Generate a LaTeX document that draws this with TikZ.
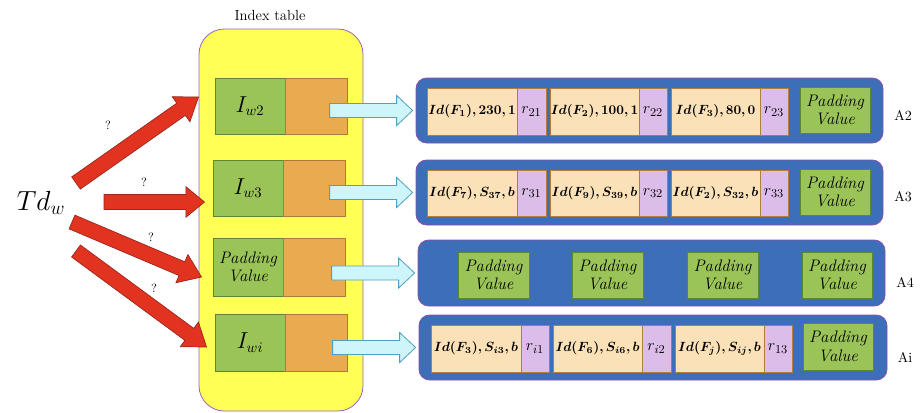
\documentclass[tikz,border=0pt]{standalone}
\usepackage{bm}
\usetikzlibrary{calc}
\definecolor{yel}{RGB}{255,255,85}
\definecolor{yelB}{RGB}{150,100,190}
\definecolor{grn}{RGB}{155,196,88}
\definecolor{grnB}{RGB}{95,135,50}
\definecolor{org}{RGB}{234,170,80}
\definecolor{orgB}{RGB}{180,120,60}
\definecolor{bei}{RGB}{251,225,183}
\definecolor{beiB}{RGB}{180,125,60}
\definecolor{lil}{RGB}{220,188,232}
\definecolor{blu}{RGB}{60,110,185}
\definecolor{bluB}{RGB}{140,80,170}
\definecolor{cya}{RGB}{205,245,250}
\definecolor{cyaB}{RGB}{80,160,190}
\definecolor{rd}{RGB}{226,50,32}
\definecolor{rdB}{RGB}{150,40,30}
% box node from (x1,y1) to (x2,y2)
\newcommand\boxat[7]{%
  \node[#6, minimum width={(#4-#2)*0.75pt}, minimum height={(#5-#3)*0.75pt}, inner sep=0pt]
    (#1) at ({(#2+#4)/2},{(#3+#5)/2}) {#7};}
% fat block arrow: style, tail, tip, name, shaft half width, head half width, head length
\newcommand\fatarrow[7]{%
  \coordinate (#4h) at ($(#3)!#7!(#2)$);
  \draw[#1] ($(#2)!#5!90:(#3)$) -- ($(#4h)!#5!90:(#3)$) -- ($(#4h)!#6!90:(#3)$)
    -- (#3) -- ($(#4h)!#6!-90:(#3)$) -- ($(#4h)!#5!-90:(#3)$) -- ($(#2)!#5!-90:(#3)$) -- cycle;}
\begin{document}
\begin{tikzpicture}[x=0.75pt,y=-0.75pt,
  yellowbox/.style={fill=yel, draw=yelB, line width=0.6pt, rounded corners=19pt},
  greenbox/.style={fill=grn, draw=grnB, line width=0.7pt, align=center, font=\itshape\fontsize{12.5}{14}\selectfont},
  mathbox/.style={fill=grn, draw=grnB, line width=0.7pt, font=\fontsize{16}{18}\selectfont},
  orangebox/.style={fill=org, draw=orgB, line width=0.7pt},
  beigebox/.style={fill=bei, draw=beiB, line width=0.7pt, font=\fontsize{10.3}{12}\selectfont},
  lilacbox/.style={fill=lil, draw=beiB, line width=0.7pt, font=\fontsize{12.5}{14}\selectfont},
  panel/.style={fill=blu, draw=bluB, line width=0.6pt, rounded corners=8pt},
  redarrow/.style={fill=rd, draw=rdB, line width=0.5pt, line join=miter},
  cyanarrow/.style={fill=cya, draw=cyaB, line width=0.6pt, line join=miter},
  qmark/.style={font=\fontsize{9}{10}\selectfont},
  rowlabel/.style={font=\fontsize{10.5}{12}\selectfont}
]
\useasboundingbox (0,0) rectangle (920,412);
\fill[white] (0,0) rectangle (920,412);

% index table
\boxat{tab}{199}{29}{363}{411}{yellowbox}{}
\node[font=\fontsize{11}{12}\selectfont] (tablbl) at (270,15) {Index table};

\boxat{g1}{215}{78}{285}{134}{mathbox}{$I_{w2}$}
\boxat{o1}{285}{78}{347}{134}{orangebox}{}
\boxat{g2}{213}{160}{283}{216}{mathbox}{$I_{w3}$}
\boxat{o2}{283}{160}{345}{216}{orangebox}{}
\boxat{g3}{213}{238}{283}{296}{greenbox}{Padding\\Value}
\boxat{o3}{283}{238}{345}{296}{orangebox}{}
\boxat{g4}{215}{314}{285}{371}{mathbox}{$I_{wi}$}
\boxat{o4}{285}{314}{347}{371}{orangebox}{}

% Td_w and red arrows
\node[font=\fontsize{22}{24}\selectfont] (td) at (41,203) {$Td_w$};
\coordinate (r1t) at (76,183);
\coordinate (r2t) at (104,202);
\coordinate (r3t) at (72,222);
\coordinate (r4t) at (76,251);
\coordinate (r1h) at ($(g1.west)+(-16,-9)$);
\coordinate (r2h) at ($(g2.west)+(-8,14)$);
\coordinate (r3h) at ($(g3.west)+(-11,10)$);
\coordinate (r4h) at ($(g4.west)+(-8,4.5)$);
\fatarrow{redarrow}{r1t}{r1h}{ra}{5.6pt}{11.5pt}{16pt}
\fatarrow{redarrow}{r2t}{r2h}{rb}{5.6pt}{11.5pt}{14pt}
\fatarrow{redarrow}{r3t}{r3h}{rc}{5.6pt}{11.5pt}{16pt}
\fatarrow{redarrow}{r4t}{r4h}{rd}{5.6pt}{11.5pt}{16pt}
\node[qmark] (q1) at (108,125) {?};
\node[qmark] (q2) at (144,182) {?};
\node[qmark] (q3) at (151,237) {?};
\node[qmark] (q4) at (154,288) {?};

% panels
\boxat{A2}{416}{78}{883}{143}{panel}{}
\boxat{A3}{416}{160}{883}{225}{panel}{}
\boxat{A4}{418}{240}{885}{306}{panel}{}
\boxat{Ai}{419}{315}{887}{380}{panel}{}

% cyan arrows
\foreach \p/\o in {A2/o1,A3/o2,A4/o3,Ai/o4}{
  \coordinate (\p cs) at ($(\p.west)+(-86,0)$);
  \coordinate (\p ce) at ($(\p.west)+(-3,0)$);
  \fatarrow{cyanarrow}{\p cs}{\p ce}{\p ca}{5.3pt}{11.3pt}{12pt}
}

% A2 row
\boxat{b21}{427}{88}{517}{135}{beigebox}{$\bm{Id(F_1),230,1}$}
\boxat{c21}{517}{88}{546}{135}{lilacbox}{$r_{21}$}
\boxat{b22}{550}{88}{639}{135}{beigebox}{$\bm{Id(F_2),100,1}$}
\boxat{c22}{639}{88}{667}{135}{lilacbox}{$r_{22}$}
\boxat{b23}{671}{88}{760}{135}{beigebox}{$\bm{Id(F_3),80,0}$}
\boxat{c23}{760}{88}{788}{135}{lilacbox}{$r_{23}$}
\boxat{p2}{800}{87}{870}{133}{greenbox}{Padding\\Value}
% A3 row
\boxat{b31}{427}{170}{517}{216}{beigebox}{$\bm{Id(F_7),S_{37},b}$}
\boxat{c31}{517}{170}{546}{216}{lilacbox}{$r_{31}$}
\boxat{b32}{550}{170}{639}{216}{beigebox}{$\bm{Id(F_9),S_{39},b}$}
\boxat{c32}{639}{170}{667}{216}{lilacbox}{$r_{32}$}
\boxat{b33}{671}{170}{760}{216}{beigebox}{$\bm{Id(F_2),S_{32},b}$}
\boxat{c33}{760}{170}{788}{216}{lilacbox}{$r_{33}$}
\boxat{p3}{800}{169}{870}{215}{greenbox}{Padding\\Value}
% A4 row
\boxat{p41}{458}{252}{529}{298}{greenbox}{Padding\\Value}
\boxat{p42}{572}{252}{643}{298}{greenbox}{Padding\\Value}
\boxat{p43}{687}{252}{758}{298}{greenbox}{Padding\\Value}
\boxat{p44}{802}{252}{872}{298}{greenbox}{Padding\\Value}
% Ai row
\boxat{bi1}{431}{325}{521}{372}{beigebox}{$\bm{Id(F_3),S_{i3},b}$}
\boxat{ci1}{521}{325}{549}{372}{lilacbox}{$r_{i1}$}
\boxat{bi2}{553}{325}{642}{372}{beigebox}{$\bm{Id(F_6),S_{i6},b}$}
\boxat{ci2}{642}{325}{671}{372}{lilacbox}{$r_{i2}$}
\boxat{bi3}{675}{325}{764}{372}{beigebox}{$\bm{Id(F_j),S_{ij},b}$}
\boxat{ci3}{764}{325}{792}{372}{lilacbox}{$r_{13}$}
\boxat{pi}{803}{323}{873}{370}{greenbox}{Padding\\Value}

% row labels
\node[rowlabel] (lA2) at (903,115) {A2};
\node[rowlabel] (lA3) at (903,197) {A3};
\node[rowlabel] (lA4) at (905,282) {A4};
\node[rowlabel] (lAi) at (905,357) {Ai};
\end{tikzpicture}
\end{document}
